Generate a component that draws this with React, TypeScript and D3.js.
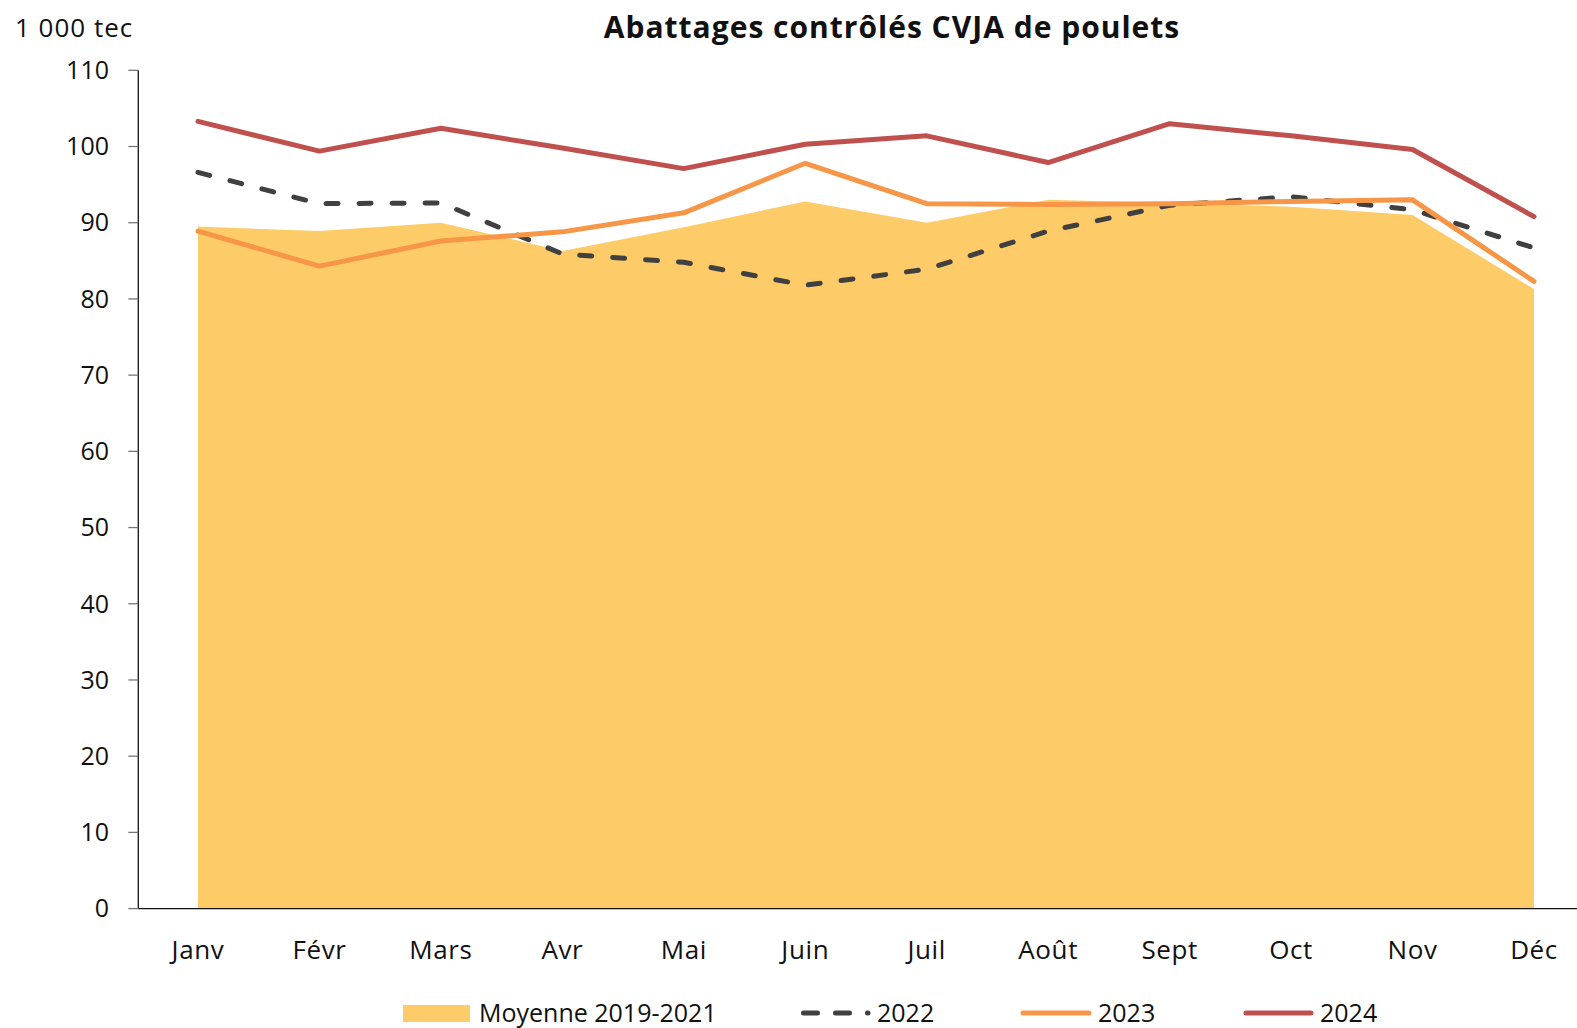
import React from 'react';
import * as d3 from 'd3';

const months = ['Janv', 'Févr', 'Mars', 'Avr', 'Mai', 'Juin', 'Juil', 'Août', 'Sept', 'Oct', 'Nov', 'Déc'];
const moyenne = [89.5, 88.9, 90.0, 86.3, 89.4, 92.8, 90.0, 93.0, 92.6, 92.1, 91.0, 81.3];
const y2022 = [96.6, 92.5, 92.6, 85.9, 84.8, 81.8, 83.9, 88.9, 92.3, 93.4, 91.7, 86.7];
const y2023 = [88.9, 84.3, 87.6, 88.8, 91.3, 97.8, 92.5, 92.4, 92.5, 92.8, 93.0, 82.3];
const y2024 = [103.3, 99.4, 102.4, 99.8, 97.1, 100.3, 101.4, 97.9, 103.0, 101.4, 99.6, 90.8];
const yTicks = [0, 10, 20, 30, 40, 50, 60, 70, 80, 90, 100, 110];

const W = 1577, H = 1028;
const font = "'Open Sans', sans-serif";
const C_AVG = '#FECB69', C_22 = '#404040', C_23 = '#F79646', C_24 = '#C0504D';

export default function App() {
  // plot frame
  const left = 138.3, top = 70.3, bottom = 908.6;
  const x = d3.scalePoint<string>().domain(months).range([198, 1534]);
  const y = d3.scaleLinear().domain([0, 110]).range([bottom, top]);

  const area = d3.area<number>()
    .x((_, i) => x(months[i])!)
    .y0(y(0))
    .y1(d => y(d));
  const line = d3.line<number>()
    .x((_, i) => x(months[i])!)
    .y(d => y(d));

  const legendY = 1013;
  return (
    <svg width={W} height={H} style={{ position: 'absolute', left: 0, top: 0, background: '#fff' }} fontFamily={font}>
      <text x={892} y={38} textAnchor="middle" fontSize={30} fontWeight={700} letterSpacing={1} fill="#111">
        Abattages contrôlés CVJA de poulets
      </text>
      <text x={15} y={37} fontSize={26} letterSpacing={1} fill="#111">1 000 tec</text>

      <path d={area(moyenne)!} fill={C_AVG} />

      {/* y axis */}
      <line x1={left} x2={left} y1={top} y2={bottom} stroke="#111" strokeWidth={1.3} />
      {yTicks.map(t => (
        <g key={t}>
          <line x1={left - 10} x2={left} y1={y(t)} y2={y(t)} stroke="#777" strokeWidth={1.3} />
          <text x={109} y={y(t)} dy="0.35em" textAnchor="end" fontSize={25} fill="#111">{t}</text>
        </g>
      ))}
      {/* x axis */}
      <line x1={left} x2={W} y1={bottom} y2={bottom} stroke="#111" strokeWidth={1.3} />
      {months.map(m => (
        <text key={m} x={x(m)} y={959} textAnchor="middle" fontSize={26} letterSpacing={0.6} fill="#111">{m}</text>
      ))}

      <path d={line(y2022)!} fill="none" stroke={C_22} strokeWidth={5} strokeDasharray="12 21" strokeLinecap="round" />
      <path d={line(y2023)!} fill="none" stroke={C_23} strokeWidth={5} strokeLinejoin="round" strokeLinecap="round" />
      <path d={line(y2024)!} fill="none" stroke={C_24} strokeWidth={5} strokeLinejoin="round" strokeLinecap="round" />

      {/* legend */}
      <rect x={403} y={1005} width={67} height={17} fill={C_AVG} />
      <text x={479} y={legendY} dy="0.35em" fontSize={25} fill="#111">Moyenne 2019-2021</text>
      <line x1={803.5} x2={868} y1={legendY} y2={legendY} stroke={C_22} strokeWidth={5} strokeDasharray="14 18" strokeLinecap="round" />
      <text x={877} y={legendY} dy="0.35em" fontSize={25} fill="#111">2022</text>
      <line x1={1023} x2={1089} y1={legendY} y2={legendY} stroke={C_23} strokeWidth={5} strokeLinecap="round" />
      <text x={1098} y={legendY} dy="0.35em" fontSize={25} fill="#111">2023</text>
      <line x1={1246} x2={1311} y1={legendY} y2={legendY} stroke={C_24} strokeWidth={5} strokeLinecap="round" />
      <text x={1320} y={legendY} dy="0.35em" fontSize={25} fill="#111">2024</text>
    </svg>
  );
}
